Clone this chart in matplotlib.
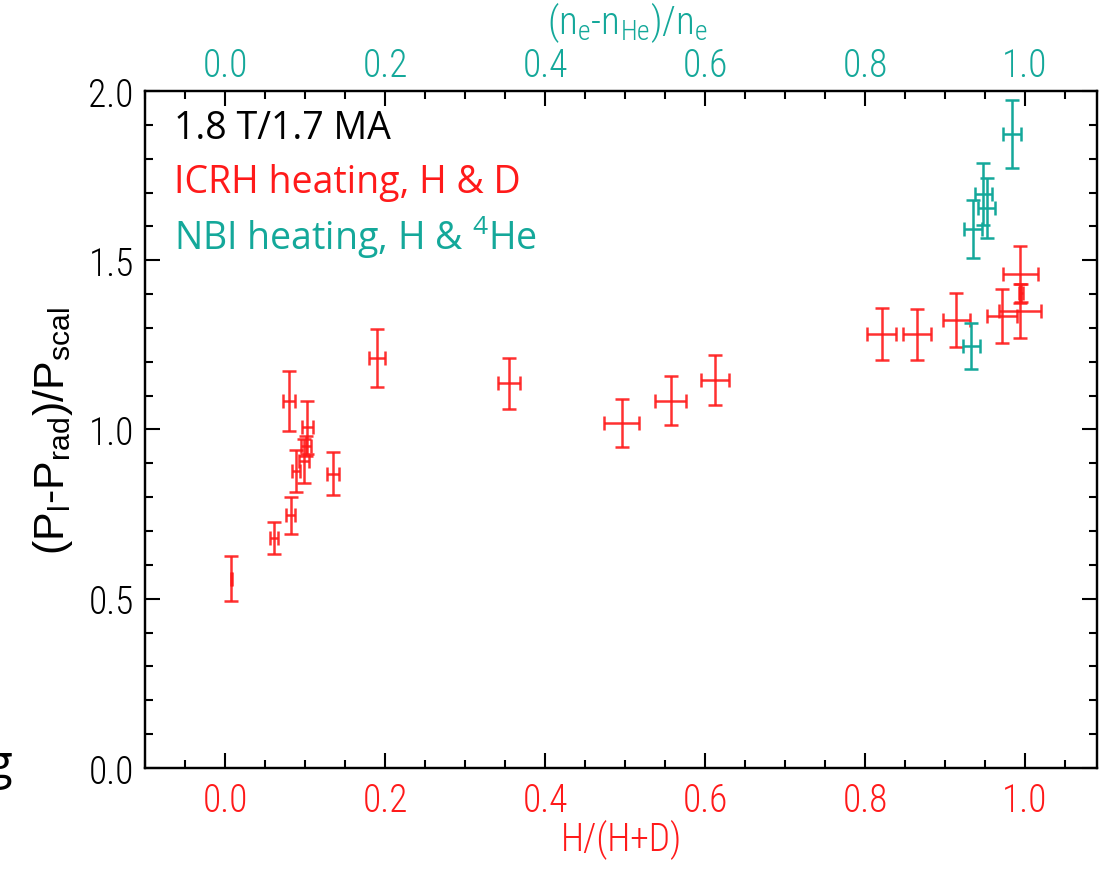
import matplotlib
matplotlib.use('Agg')
import matplotlib.pyplot as plt
from matplotlib.ticker import MultipleLocator

# ICRH heating, H & D  (bottom axis H/(H+D))
icrh_x = [0.008, 0.061, 0.082, 0.080, 0.103, 0.101, 0.099, 0.089, 0.135, 0.190,
          0.355, 0.496, 0.557, 0.612, 0.821, 0.865, 0.914, 0.971, 0.994, 0.994, 0.995]
icrh_y = [0.559, 0.679, 0.746, 1.085, 1.006, 0.952, 0.908, 0.876, 0.869, 1.210,
          1.136, 1.019, 1.085, 1.146, 1.282, 1.281, 1.323, 1.336, 1.351, 1.459, 1.403]
icrh_xerr = [0.001, 0.005, 0.006, 0.007, 0.007, 0.006, 0.006, 0.005, 0.007, 0.010,
             0.014, 0.022, 0.019, 0.0175, 0.018, 0.017, 0.017, 0.019, 0.026, 0.022, 0.003]
icrh_yerr = [0.066, 0.048, 0.054, 0.089, 0.077, 0.030, 0.065, 0.062, 0.063, 0.086,
             0.075, 0.070, 0.072, 0.073, 0.078, 0.075, 0.079, 0.080, 0.080, 0.084, 0.027]

# NBI heating, H & 4He  (top axis (ne-nHe)/ne)
nbi_x = [0.984, 0.935, 0.948, 0.952, 0.933]
nbi_y = [1.872, 1.592, 1.695, 1.655, 1.247]
nbi_xerr = [0.0115, 0.011, 0.011, 0.0105, 0.011]
nbi_yerr = [0.101, 0.086, 0.092, 0.088, 0.067]

RED = '#ff1a1a'
TEAL = '#14a89a'
tick_font = ['Liberation Sans Narrow', 'Roboto Condensed', 'DejaVu Sans Condensed', 'DejaVu Sans']
text_font = ['Open Sans', 'DejaVu Sans']
label_font = ['Liberation Sans', 'DejaVu Sans']

fig = plt.figure(figsize=(11.05, 8.7), dpi=100)
ax = fig.add_axes([0.1312, 0.1161, 0.8616, 0.7782])
ax.set_xlim(-0.1, 1.09)
ax.set_ylim(0, 2.0)

ebkw = dict(fmt='none', elinewidth=1.8, capsize=5, capthick=1.8)
ax.errorbar(icrh_x, icrh_y, xerr=icrh_xerr, yerr=icrh_yerr, ecolor=RED, alpha=0.9, **ebkw)

ax2 = ax.twiny()
ax2.set_xlim(ax.get_xlim())
ax2.errorbar(nbi_x, nbi_y, xerr=nbi_xerr, yerr=nbi_yerr, ecolor=TEAL, **ebkw)

for a in (ax, ax2):
    for s in a.spines.values():
        s.set_linewidth(1.6)

ax.xaxis.set_major_locator(MultipleLocator(0.2))
ax.xaxis.set_minor_locator(MultipleLocator(0.05))
ax.yaxis.set_major_locator(MultipleLocator(0.5))
ax.yaxis.set_minor_locator(MultipleLocator(0.1))
ax2.xaxis.set_major_locator(MultipleLocator(0.2))
ax2.xaxis.set_minor_locator(MultipleLocator(0.05))

ax.tick_params(axis='both', which='both', direction='in', right=True, width=1.5)
ax.tick_params(which='major', length=11)
ax.tick_params(which='minor', length=6)
ax.tick_params(axis='x', colors='black', labelcolor=RED, labelsize=27, pad=10)
ax.tick_params(axis='y', labelsize=27, pad=8)
ax2.tick_params(axis='x', which='both', direction='in', width=1.5,
                labelcolor=TEAL, labelsize=27, pad=5)
ax2.tick_params(which='major', length=11)
ax2.tick_params(which='minor', length=6)

ax.xaxis.set_major_formatter(lambda v, p: f'{v:.1f}')
ax.yaxis.set_major_formatter(lambda v, p: f'{v:.1f}')
ax2.xaxis.set_major_formatter(lambda v, p: f'{v:.1f}')
for lab in ax.get_xticklabels() + ax.get_yticklabels() + ax2.get_xticklabels():
    lab.set_family(tick_font)
    lab.set_fontweight('light')

ax.set_xlabel('H/(H+D)', color=RED, fontsize=27, family=tick_font,
              fontweight='light', labelpad=0)
# top axis title placed by hand so it sits clear of the tick labels
fig.text(0.568, 0.974, r'(n$_\mathregular{e}$-n$_\mathregular{He}$)/n$_\mathregular{e}$',
         color=TEAL, fontsize=28, family=tick_font, fontweight='light',
         ha='center', va='center')
ax.set_ylabel(r'(P$_\mathregular{l}$-P$_\mathregular{rad}$)/P$_\mathregular{scal}$',
              fontsize=31, family=label_font, labelpad=10)

ax.text(0.03, 0.945, '1.8 T/1.7 MA', transform=ax.transAxes, fontsize=27,
        family=text_font, color='black', va='center')
ax.text(0.03, 0.865, 'ICRH heating, H & D', transform=ax.transAxes, fontsize=27,
        family=text_font, color=RED, va='center')
ax.text(0.03, 0.785, r'NBI heating, H & $^\mathregular{4}$He', transform=ax.transAxes,
        fontsize=27, family=text_font, color=TEAL, va='center')

# clipped letter at the left edge from the neighbouring figure
fig.text(-0.012, 0.105, 'g', fontsize=34, family=text_font, color='black')

fig.savefig('out.png', dpi=100)
